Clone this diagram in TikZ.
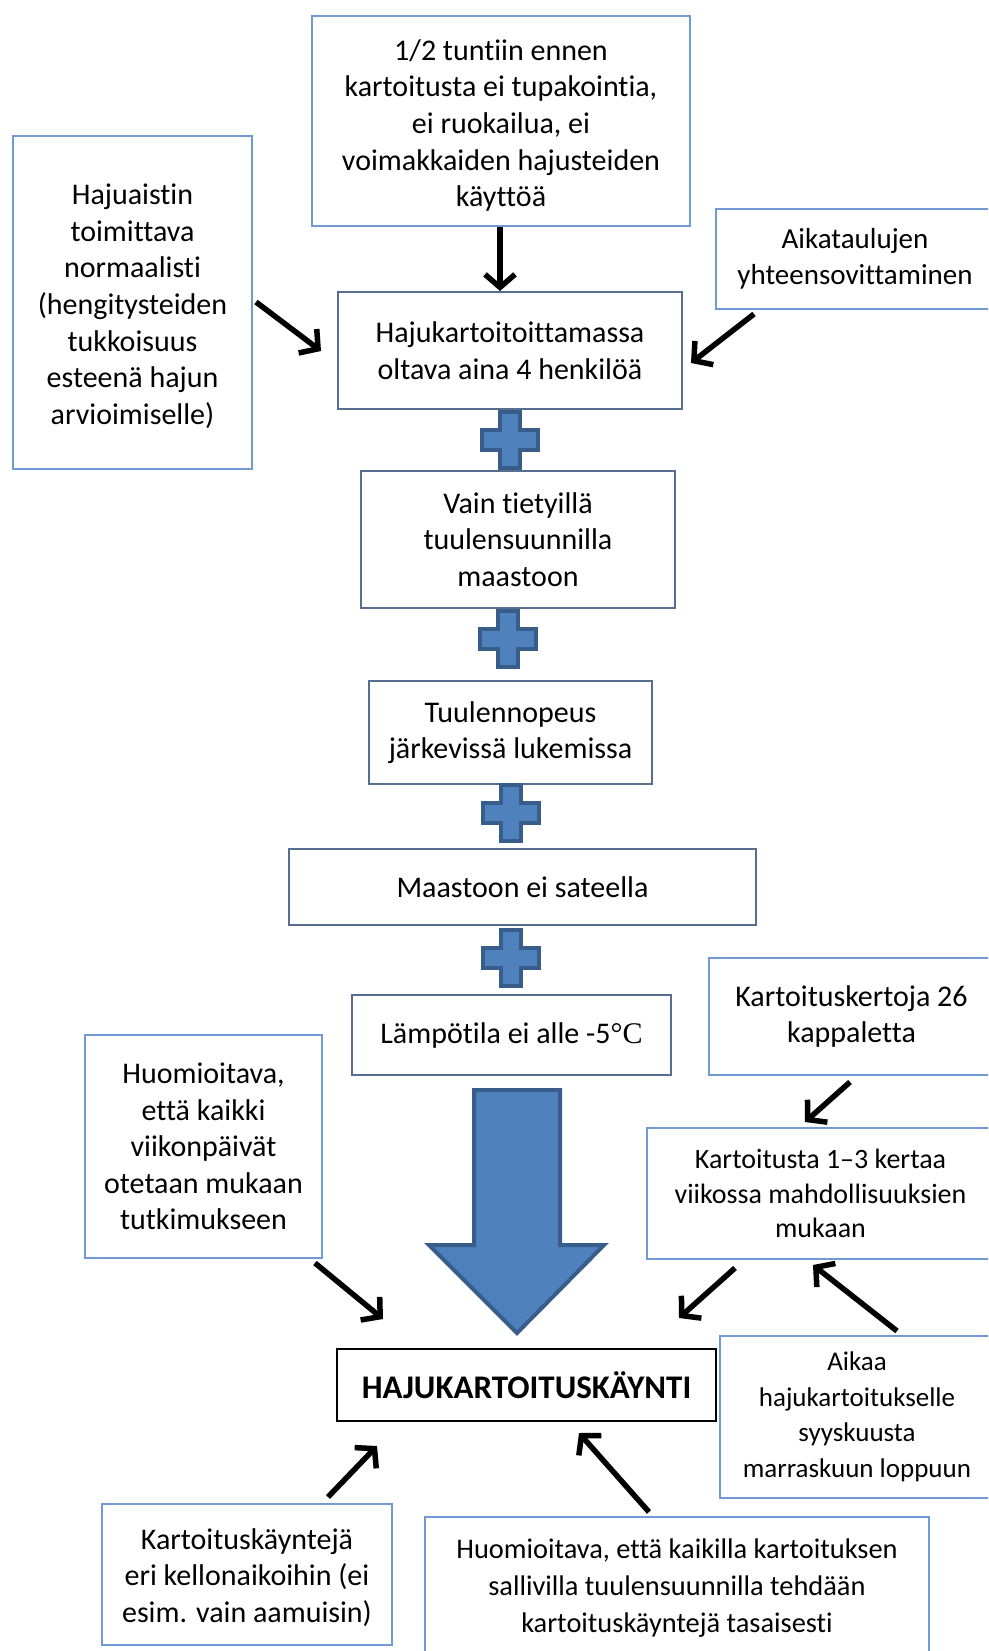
\documentclass[tikz,border=0pt]{standalone}
\usepackage{fontspec}
\setmainfont{Carlito}[Ligatures=NoCommon]
\newfontfamily\serifC{Liberation Serif}
\usetikzlibrary{arrows.meta}
\definecolor{lb}{RGB}{112,153,214}
\definecolor{ds}{RGB}{88,110,145}
\definecolor{pf}{RGB}{79,129,189}
\definecolor{pb}{RGB}{56,93,138}
\tikzset{
  bx/.style={draw, line width=2pt, fill=white, inner sep=0pt, align=center,
    font=\fontsize{30}{36.6}\selectfont, text=black},
  lbox/.style={bx, draw=lb},
  dbox/.style={bx, draw=ds},
  mainbox/.style={bx, draw=black, line width=2.5pt, font=\fontsize{33}{38}\selectfont\bfseries},
  conn/.style={line width=5.5pt, -{Straight Barb[length=13pt, width=30pt]}},
  plusshape/.style={fill=pf, draw=pb, line width=4pt, line join=miter},
  plussign/.pic={\path[plusshape] (-10,-28) -- (10,-28) -- (10,-10) -- (28,-10) -- (28,10) -- (10,10) -- (10,28) -- (-10,28) -- (-10,10) -- (-28,10) -- (-28,-10) -- (-10,-10) -- cycle;},
}
\begin{document}
\begin{tikzpicture}[x=1pt,y=-1pt]
\useasboundingbox (0,0) rectangle (988,1651);
\clip (0,0) rectangle (988,1651);
\fill[white] (0,0) rectangle (988,1651);

% boxes
\node[lbox, minimum width=378pt, minimum height=210pt] (t1) at (501,121)
  {\rule{0pt}{30pt}1/2 tuntiin ennen\\kartoitusta ei tupakointia,\\ei ruokailua, ei\\voimakkaiden hajusteiden\\käyttöä};
\node[lbox, minimum width=239pt, minimum height=333pt] (hl) at (132.5,302.5)
  {\rule{0pt}{28pt}Hajuaistin\\toimittava\\normaalisti\\(hengitysteiden\\tukkoisuus\\esteenä hajun\\arvioimiselle)};
\node[lbox, minimum width=278pt, minimum height=100pt, font=\fontsize{29}{36}\selectfont] (at) at (855,259)
  {Aikataulujen\\yhteensovittaminen};
\node[dbox, minimum width=344pt, minimum height=117pt] (hk) at (510,350.5)
  {Hajukartoitoittamassa\\oltava aina 4 henkilöä};
\node[dbox, minimum width=314pt, minimum height=137pt] (vt) at (518,539.5)
  {Vain tietyillä\\tuulensuunnilla\\maastoon};
\node[dbox, minimum width=283pt, minimum height=103pt] (tn) at (510.5,732.5)
  {Tuulennopeus\\järkevissä lukemissa};
\node[dbox, minimum width=467pt, minimum height=76pt] (ms) at (522.5,887)
  {Maastoon ei sateella};
\node[dbox, minimum width=319pt, minimum height=80pt] (lt) at (511.5,1035)
  {Lämpötila ei alle -5{\serifC °C}};
\node[lbox, minimum width=285pt, minimum height=117pt] (kk) at (851.5,1016.5)
  {Kartoituskertoja 26\\kappaletta};
\node[lbox, minimum width=237pt, minimum height=223pt] (hv) at (203.5,1146.5)
  {Huomioitava,\\että kaikki\\viikonpäivät\\otetaan mukaan\\tutkimukseen};
\node[lbox, minimum width=347pt, minimum height=131pt, font=\fontsize{28}{34.5}\selectfont] (k13) at (820.5,1193.5)
  {Kartoitusta 1–3 kertaa\\viikossa mahdollisuuksien\\mukaan};
\node[mainbox, minimum width=379pt, minimum height=72pt] (main) at (526.5,1385)
  {HAJUKARTOITUSKÄYNTI};
\node[lbox, minimum width=274pt, minimum height=162pt, font=\fontsize{27}{35.5}\selectfont] (ak) at (857,1417)
  {Aikaa\\hajukartoitukselle\\syyskuusta\\marraskuun loppuun};
\node[lbox, minimum width=290pt, minimum height=141pt] (kv) at (247,1574.5)
  {\rule{0pt}{27pt}Kartoituskäyntejä\\eri kellonaikoihin (ei\\esim. vain aamuisin)};
\node[lbox, minimum width=504pt, minimum height=142pt, font=\fontsize{28.4}{36.6}\selectfont] (hb) at (677,1588)
  {Huomioitava, että kaikilla kartoituksen\\sallivilla tuulensuunnilla tehdään\\kartoituskäyntejä tasaisesti};

% plus signs
\pic at (510,440) {plussign};
\pic at (508,639) {plussign};
\pic at (511,813) {plussign};
\pic at (511,958) {plussign};

% big arrow
\path[plusshape] (474,1090) -- (560,1090) -- (560,1245) -- (604,1245) -- (517,1333)
  -- (429,1245) -- (474,1245) -- cycle;

% arrow end points
\coordinate (a1s) at (500,227);  \coordinate (a1e) at (500,291);
\coordinate (a2s) at (256,302);  \coordinate (a2e) at (321,351);
\coordinate (a3s) at (754,314);  \coordinate (a3e) at (691,363);
\coordinate (a4s) at (850,1082); \coordinate (a4e) at (805,1122);
\coordinate (a5s) at (315,1263); \coordinate (a5e) at (383,1319);
\coordinate (a6s) at (735,1268); \coordinate (a6e) at (679,1318);
\coordinate (a7s) at (897,1331); \coordinate (a7e) at (813,1265);
\coordinate (a8s) at (328,1497); \coordinate (a8e) at (377,1446);
\coordinate (a9s) at (649,1512); \coordinate (a9e) at (579,1433);

\foreach \i in {1,...,9} {\draw[conn] (a\i s) -- (a\i e);}
\end{tikzpicture}
\end{document}
